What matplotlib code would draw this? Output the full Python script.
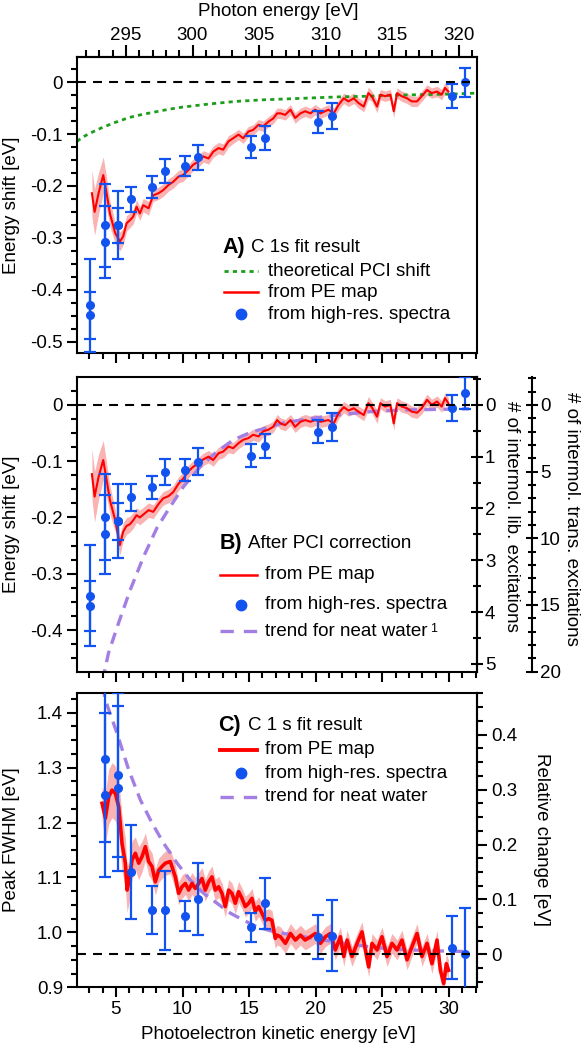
import matplotlib
matplotlib.use('Agg')
import matplotlib.pyplot as plt
import numpy as np
from matplotlib.ticker import MultipleLocator, FuncFormatter

FS = 13.5
plt.rcParams['font.family'] = ['Liberation Sans', 'DejaVu Sans']
plt.rcParams['font.size'] = FS
plt.rcParams['axes.unicode_minus'] = False

# ---------------- data ----------------
ke_map = [3.2, 3.4, 3.7, 4.05, 4.3, 4.55, 4.95, 5.3, 5.55, 5.8,
          6.05, 6.3, 6.55, 6.8, 7.05, 7.45, 7.8, 8.2, 8.55, 8.95,
          9.3, 9.7, 10.05, 10.45, 10.8, 11.2, 11.55, 11.95, 12.3, 12.7,
          13.05, 13.45, 13.8, 14.2, 14.55, 14.95, 15.3, 15.7, 16.05, 16.45,
          16.8, 17.1, 17.35, 17.7, 18.1, 18.45, 18.85, 19.2, 19.6, 19.95,
          20.35, 20.95, 21.35, 21.7, 22.1, 22.45, 22.85, 23.2, 23.6, 23.95,
          24.2, 24.6, 24.85, 25.2, 25.6, 25.85, 26.1, 26.45, 26.85, 27.2,
          27.6, 27.95, 28.35, 28.7, 29.1, 29.45, 29.7, 29.95]
shift_map_a = [-0.214, -0.250, -0.214, -0.179, -0.214, -0.253, -0.291, -0.307, -0.297, -0.272,
               -0.266, -0.259, -0.240, -0.253, -0.237, -0.243, -0.218, -0.214, -0.208, -0.198,
               -0.192, -0.182, -0.179, -0.169, -0.159, -0.153, -0.143, -0.147, -0.134, -0.127,
               -0.130, -0.114, -0.108, -0.101, -0.108, -0.095, -0.092, -0.082, -0.085, -0.076,
               -0.070, -0.060, -0.060, -0.063, -0.053, -0.069, -0.060, -0.056, -0.060, -0.053,
               -0.060, -0.053, -0.060, -0.044, -0.031, -0.037, -0.031, -0.040, -0.047, -0.021,
               -0.027, -0.047, -0.024, -0.027, -0.024, -0.056, -0.021, -0.027, -0.031, -0.037,
               -0.037, -0.027, -0.015, -0.021, -0.018, -0.024, -0.011, -0.018]
shift_map_b = [-0.123, -0.163, -0.128, -0.098, -0.133, -0.169, -0.205, -0.249, -0.225, -0.215,
               -0.212, -0.205, -0.196, -0.200, -0.195, -0.187, -0.190, -0.176, -0.166, -0.162,
               -0.155, -0.140, -0.131, -0.118, -0.110, -0.104, -0.097, -0.092, -0.098, -0.086,
               -0.083, -0.074, -0.077, -0.068, -0.062, -0.059, -0.053, -0.056, -0.047, -0.044,
               -0.039, -0.027, -0.033, -0.036, -0.027, -0.039, -0.030, -0.027, -0.030, -0.027,
               -0.030, -0.027, -0.033, -0.015, -0.004, -0.010, -0.006, -0.012, -0.018, 0.003,
               -0.004, -0.021, 0.003, -0.003, 0.000, -0.033, 0.003, -0.003, -0.006, -0.012,
               -0.014, -0.006, 0.009, 0.000, 0.006, -0.003, 0.012, 0.003]
band_map = [0.045, 0.045, 0.040, 0.035, 0.030, 0.025, 0.020, 0.018, 0.016, 0.015,
            0.014, 0.014, 0.013, 0.013, 0.013, 0.013, 0.012, 0.012, 0.012, 0.012,
            0.012, 0.012, 0.012, 0.011, 0.011, 0.011, 0.011, 0.011, 0.011, 0.011,
            0.011, 0.011, 0.010, 0.010, 0.010, 0.010, 0.010, 0.010, 0.010, 0.010,
            0.010, 0.010, 0.010, 0.010, 0.010, 0.010, 0.010, 0.010, 0.010, 0.010,
            0.010, 0.010, 0.010, 0.010, 0.010, 0.010, 0.010, 0.010, 0.010, 0.012,
            0.010, 0.012, 0.010, 0.010, 0.010, 0.012, 0.010, 0.010, 0.010, 0.010,
            0.010, 0.010, 0.010, 0.010, 0.010, 0.010, 0.010, 0.010]

ke_c = [3.96, 4.21, 4.46, 4.71, 4.96, 5.21, 5.46, 5.71, 5.84, 6.04,
        6.21, 6.46, 6.71, 6.96, 7.21, 7.46, 7.71, 7.96, 8.21, 8.46,
        8.71, 9.08, 9.46, 9.71, 9.96, 10.21, 10.46, 10.71, 10.96, 11.21,
        11.46, 11.71, 11.96, 12.21, 12.46, 12.71, 12.96, 13.21, 13.46, 13.71,
        13.96, 14.21, 14.46, 14.71, 14.96, 15.21, 15.46, 15.71, 15.96, 16.21,
        16.46, 16.71, 16.96, 17.1, 17.35, 17.72, 18.1, 18.47, 18.85, 19.2,
        19.6, 19.97, 20.35, 20.72, 21.1, 21.47, 21.85, 22.1, 22.35, 22.72,
        23.1, 23.47, 23.72, 23.97, 24.22, 24.6, 24.97, 25.35, 25.72, 26.1,
        26.47, 26.85, 27.22, 27.6, 27.97, 28.35, 28.72, 29.1, 29.35, 29.6,
        29.8, 29.97]
fwhm_c = [1.235, 1.208, 1.247, 1.259, 1.253, 1.229, 1.162, 1.126, 1.077, 1.101,
          1.132, 1.144, 1.126, 1.138, 1.156, 1.129, 1.120, 1.092, 1.113, 1.120,
          1.126, 1.129, 1.101, 1.071, 1.083, 1.089, 1.077, 1.089, 1.080, 1.089,
          1.098, 1.077, 1.092, 1.101, 1.077, 1.083, 1.071, 1.047, 1.077, 1.071,
          1.053, 1.074, 1.062, 1.047, 1.053, 1.062, 1.038, 1.047, 1.035, 1.022,
          1.025, 1.022, 0.989, 0.995, 0.992, 0.980, 0.998, 0.986, 0.995, 0.986,
          0.992, 0.998, 0.980, 0.992, 0.998, 0.968, 0.992, 0.956, 0.986, 0.956,
          0.980, 1.001, 0.968, 0.937, 0.980, 0.968, 0.992, 0.956, 0.980, 0.968,
          0.986, 0.950, 0.974, 0.998, 0.956, 0.980, 0.943, 0.986, 0.931, 0.907,
          0.943, 0.931]
band_c = [0.030, 0.045, 0.050, 0.050, 0.050, 0.050, 0.050, 0.045, 0.040, 0.040,
          0.035, 0.030, 0.030, 0.028, 0.025, 0.025, 0.025, 0.024, 0.022, 0.022,
          0.022, 0.022, 0.022, 0.021, 0.021, 0.020, 0.020, 0.020, 0.020, 0.020,
          0.020, 0.020, 0.020, 0.020, 0.020, 0.019, 0.019, 0.019, 0.019, 0.019,
          0.019, 0.019, 0.019, 0.019, 0.018, 0.018, 0.018, 0.018, 0.018, 0.018,
          0.018, 0.018, 0.018, 0.018, 0.018, 0.018, 0.018, 0.018, 0.018, 0.018,
          0.018, 0.018, 0.018, 0.018, 0.018, 0.018, 0.018, 0.018, 0.018, 0.018,
          0.018, 0.018, 0.018, 0.018, 0.018, 0.018, 0.018, 0.018, 0.018, 0.018,
          0.018, 0.018, 0.018, 0.018, 0.018, 0.018, 0.018, 0.018, 0.018, 0.018,
          0.018, 0.018]

pci_ke = [2.08, 2.5, 3.0, 3.5, 4.0, 5.0, 6.0, 7.0, 8.0, 9.0, 10.0, 12.0,
          14.0, 16.0, 18.0, 20.0, 22.0, 24.0, 26.0, 28.0, 30.0, 32.1]
pci_shift = [-0.114, -0.106, -0.099, -0.093, -0.087, -0.077, -0.068, -0.062, -0.057, -0.052,
             -0.048, -0.042, -0.037, -0.034, -0.032, -0.030, -0.028, -0.027, -0.025, -0.024,
             -0.023, -0.021]

hr_ke_ab = [3.07, 3.07, 4.15, 4.15, 5.13, 5.13, 6.17, 7.7, 8.68, 10.18, 11.18,
            15.17, 16.2, 20.2, 21.2, 30.2, 31.2]
hr_shift_a = [-0.430, -0.449, -0.2755, -0.3077, -0.2755, -0.276, -0.2259, -0.2015, -0.1712,
              -0.1616, -0.1448, -0.1255, -0.107, -0.076, -0.066, -0.0265, 0.0]
hr_err_a = [0.090, 0.045, 0.080, 0.070, 0.065, 0.033, 0.024, 0.021, 0.024, 0.020, 0.024,
            0.021, 0.023, 0.021, 0.025, 0.023, 0.028]
hr_shift_b = [-0.339, -0.357, -0.1987, -0.230, -0.2064, -0.207, -0.164, -0.1465, -0.120,
              -0.1157, -0.1008, -0.090, -0.073, -0.0475, -0.0386, -0.006, 0.021]
hr_err_b = [0.090, 0.045, 0.076, 0.070, 0.065, 0.033, 0.024, 0.020, 0.023, 0.020, 0.024,
            0.021, 0.022, 0.021, 0.025, 0.023, 0.029]

hr_ke_c = [4.15, 4.15, 5.14, 5.14, 6.17, 7.7, 8.68, 10.18, 11.18, 15.17, 16.2,
           20.2, 21.2, 30.2, 31.2]
hr_fwhm_c = [1.315, 1.250, 1.2865, 1.262, 1.110, 1.0406, 1.0406, 1.0297, 1.061, 1.009,
             1.053, 0.992, 0.994, 0.972, 0.960]
hr_err_c = [0.150, 0.150, 0.150, 0.150, 0.085, 0.043, 0.072, 0.028, 0.065, 0.027,
            0.046, 0.040, 0.065, 0.057, 0.085]

trend_b_ke = [4.0, 4.44, 5.19, 6.07, 7.07, 8.07, 9.07, 10.08, 11.33, 12.58, 13.83,
              15.1, 16.4, 17.6, 18.85, 20.0, 21.6, 24.1, 26.6, 29.1, 31.5]
trend_b = [-0.49, -0.441, -0.388, -0.329, -0.270, -0.219, -0.181, -0.145, -0.110, -0.083,
           -0.062, -0.049, -0.040, -0.032, -0.027, -0.023, -0.018, -0.012, -0.009, -0.008, -0.007]
trend_c_ke = [4.0, 4.21, 5.09, 5.96, 6.84, 7.71, 8.59, 9.59, 10.59, 11.59, 12.59,
              13.59, 14.59, 15.59, 16.59, 17.6, 19.6, 22.1, 24.6, 27.1, 29.6, 31.5]
trend_c = [1.45, 1.423, 1.362, 1.296, 1.241, 1.199, 1.162, 1.126, 1.095, 1.071, 1.053,
           1.035, 1.022, 1.010, 1.003, 0.998, 0.990, 0.980, 0.972, 0.968, 0.966, 0.965]

fwhm_ref = 0.96
ev_per_lib = 0.092
ev_per_trans = 0.0237
photon_offset = 289.25

# ---------------- style ----------------
RED = '#ff0000'
PINK = '#f9b3b3'
BLUE = '#1253f0'
GREEN = '#1c9e1c'
PURPLE = '#a47fe3'
BLK_DASH = (4.3, 3.4)

fig = plt.figure(figsize=(5.82, 10.45), dpi=100)
L, W = 77 / 582, 400 / 582


def pos(top, bottom):
    return [L, 1 - bottom / 1045, W, (bottom - top) / 1045]


axA = fig.add_axes(pos(57.3, 353.3))
axB = fig.add_axes(pos(377.3, 671.7))
axC = fig.add_axes(pos(692.7, 987.3))

XLIM = (2.08, 32.1)


def fmt1(v, _):
    if abs(v) < 1e-9:
        return '0'
    return f'{v:.1f}'


def fmt_int(v, _):
    return f'{int(round(v))}'


def base_style(ax):
    for s in ax.spines.values():
        s.set_linewidth(1.5)
    ax.set_xlim(*XLIM)
    ax.xaxis.set_major_locator(MultipleLocator(5))
    ax.xaxis.set_minor_locator(MultipleLocator(1))
    ax.yaxis.set_major_locator(MultipleLocator(0.1))
    ax.yaxis.set_minor_locator(MultipleLocator(0.025))
    ax.yaxis.set_major_formatter(FuncFormatter(fmt1))
    ax.xaxis.set_major_formatter(FuncFormatter(fmt_int))
    ax.tick_params(which='major', direction='out', length=7, width=1.5, labelsize=FS, pad=3)
    ax.tick_params(which='minor', direction='out', length=4.5, width=1.5)
    ax.tick_params(which='both', top=False, right=False)


for ax in (axA, axB, axC):
    base_style(ax)
axA.tick_params(labelbottom=False)
axB.tick_params(labelbottom=False)

axA.set_ylim(-0.5225, 0.048)
axB.set_ylim(-0.474, 0.049)
axC.set_ylim(0.9, 1.4364)


def hdash(ax, y):
    ax.plot([XLIM[0], 31.6], [y, y], color='black', lw=1.5, dashes=BLK_DASH, zorder=6)


YLAB_X = -0.142

# ---------------- panel A ----------------
ka = np.array(ke_map)
sa = np.array(shift_map_a)
bm = np.array(band_map)
axA.fill_between(ka, sa - bm, sa + bm, color=PINK, lw=0, zorder=1)
axA.plot(pci_ke, pci_shift, color=GREEN, lw=2, dashes=(1.5, 1.5), zorder=2)
axA.plot(ka, sa, color=RED, lw=1.5, zorder=3)
axA.errorbar(hr_ke_ab, hr_shift_a, yerr=hr_err_a, fmt='o', color=BLUE, ms=5.5,
             elinewidth=1.6, capsize=4, capthick=1.6, zorder=5)
hdash(axA, 0)
axA.set_ylabel('Energy shift [eV]')
axA.yaxis.set_label_coords(YLAB_X, 0.5)

secA = axA.secondary_xaxis('top', functions=(lambda k: k + photon_offset,
                                              lambda e: e - photon_offset))
secA.set_xticks([295, 300, 305, 310, 315, 320])
secA.xaxis.set_major_formatter(FuncFormatter(fmt_int))
secA.xaxis.set_minor_locator(MultipleLocator(1))
secA.tick_params(which='major', direction='out', length=8.5, width=1.5, labelsize=FS, pad=1)
secA.tick_params(which='minor', direction='out', length=5, width=1.5)
secA.spines['top'].set_linewidth(1.5)
fig.text(278 / 582, 1 - 11 / 1045, 'Photon energy [eV]', ha='center', va='center', fontsize=FS)

tA = axA.transAxes
axA.text(0.3625, 0.356, 'A)', transform=tA, fontsize=15.5, fontweight='bold', va='center')
axA.text(0.435, 0.356, 'C 1s fit result', transform=tA, va='center')
axA.plot([0.3675, 0.4525], [0.278, 0.278], transform=tA, color=GREEN, lw=2, dashes=(1.5, 1.5))
axA.text(0.4775, 0.278, 'theoretical PCI shift', transform=tA, va='center')
axA.plot([0.3675, 0.4525], [0.207, 0.207], transform=tA, color=RED, lw=1.8)
axA.text(0.4775, 0.207, 'from PE map', transform=tA, va='center')
axA.plot([0.41], [0.132], 'o', transform=tA, color=BLUE, ms=7.5)
axA.text(0.4775, 0.132, 'from high-res. spectra', transform=tA, va='center')

# ---------------- panel B ----------------
sb = np.array(shift_map_b)
axB.fill_between(ka, sb - bm, sb + bm, color=PINK, lw=0, zorder=1)
axB.plot(trend_b_ke, trend_b, color=PURPLE, lw=2.4, dashes=(3.5, 2.2), zorder=2)
axB.plot(ka, sb, color=RED, lw=1.5, zorder=3)
axB.errorbar(hr_ke_ab, hr_shift_b, yerr=hr_err_b, fmt='o', color=BLUE, ms=5.5,
             elinewidth=1.6, capsize=4, capthick=1.6, zorder=5)
hdash(axB, 0)
axB.set_ylabel('Energy shift [eV]')
axB.yaxis.set_label_coords(YLAB_X, 0.5)

b0, b1 = axB.get_ylim()
axL = axB.twinx()
axL.set_ylim(-b0 / ev_per_lib, -b1 / ev_per_lib)
axT = axB.twinx()
axT.set_ylim(-b0 / ev_per_trans, -b1 / ev_per_trans)
axT.spines['right'].set_position(('axes', 1.1375))
for a in (axL, axT):
    for k in ('top', 'bottom', 'left'):
        a.spines[k].set_visible(False)
    a.spines['right'].set_linewidth(1.5)
axL.yaxis.set_major_locator(MultipleLocator(1))
axL.yaxis.set_minor_locator(MultipleLocator(0.5))
axT.yaxis.set_major_locator(MultipleLocator(5))
axT.yaxis.set_minor_locator(MultipleLocator(1))
for a in (axL, axT):
    a.yaxis.set_major_formatter(FuncFormatter(fmt_int))
    a.tick_params(which='major', direction='inout', length=8.5, width=1.5, labelsize=FS, pad=1.5)
    a.tick_params(which='minor', direction='inout', length=5.5, width=1.5)
axL.set_ylabel('# of intermol. lib. excitations', rotation=270, va='bottom')
axL.yaxis.set_label_coords(1.064, 0.527)
axT.set_ylabel('# of intermol. trans. excitations', rotation=270, va='bottom')
axT.yaxis.set_label_coords(1.216, 0.52)

tB = axB.transAxes
axB.text(0.3575, 0.437, 'B)', transform=tB, fontsize=15.5, fontweight='bold', va='center')
axB.text(0.4275, 0.437, 'After PCI correction', transform=tB, va='center')
axB.plot([0.3575, 0.449], [0.329, 0.329], transform=tB, color=RED, lw=1.8)
axB.text(0.47, 0.329, 'from PE map', transform=tB, va='center')
axB.plot([0.409], [0.227], 'o', transform=tB, color=BLUE, ms=7.5)
axB.text(0.47, 0.227, 'from high-res. spectra', transform=tB, va='center')
axB.plot([0.3575, 0.449], [0.137, 0.137], transform=tB, color=PURPLE, lw=2.4, dashes=(4, 3))
tw = axB.text(0.47, 0.137, 'trend for neat water', transform=tB, va='center')
axB.annotate('1', xy=(1, 1), xycoords=tw, xytext=(1.5, 0), textcoords='offset points',
             fontsize=9, va='top')

# ---------------- panel C ----------------
kc = np.array(ke_c)
fc = np.array(fwhm_c)
bc = np.array(band_c)
axC.fill_between(kc, fc - bc, fc + bc, color=PINK, lw=0, zorder=1)
axC.plot(trend_c_ke, trend_c, color=PURPLE, lw=2.4, dashes=(3.5, 2.2), zorder=2)
axC.plot(kc, fc, color=RED, lw=2.6, zorder=3)
axC.errorbar(hr_ke_c, hr_fwhm_c, yerr=hr_err_c, fmt='o', color=BLUE, ms=5.5,
             elinewidth=1.6, capsize=4, capthick=1.6, zorder=5)
hdash(axC, fwhm_ref)
axC.set_ylabel('Peak FWHM [eV]')
axC.yaxis.set_label_coords(YLAB_X, 0.5)
axC.set_xlabel('Photoelectron kinetic energy [eV]')
axC.xaxis.set_label_coords(0.5025, -0.132)

axR = axC.twinx()
axR.set_ylim(0.9 - fwhm_ref, 1.4364 - fwhm_ref)
for k in ('top', 'bottom', 'left'):
    axR.spines[k].set_visible(False)
axR.spines['right'].set_linewidth(1.5)
axR.yaxis.set_major_locator(MultipleLocator(0.1))
axR.yaxis.set_minor_locator(MultipleLocator(0.025))
axR.yaxis.set_major_formatter(FuncFormatter(fmt1))
axR.tick_params(which='major', direction='out', length=7, width=1.5, labelsize=FS, pad=3)
axR.tick_params(which='minor', direction='out', length=4.5, width=1.5)
axR.set_ylabel('Relative change [eV]', rotation=270, va='bottom')
axR.yaxis.set_label_coords(1.14, 0.503)

tC = axC.transAxes
axC.text(0.3525, 0.888, 'C)', transform=tC, fontsize=15.5, fontweight='bold', va='center')
axC.text(0.4275, 0.888, 'C 1 s fit result', transform=tC, va='center')
axC.plot([0.3575, 0.449], [0.806, 0.806], transform=tC, color=RED, lw=2.8)
axC.text(0.47, 0.806, 'from PE map', transform=tC, va='center')
axC.plot([0.409], [0.727], 'o', transform=tC, color=BLUE, ms=7.5)
axC.text(0.47, 0.727, 'from high-res. spectra', transform=tC, va='center')
axC.plot([0.3575, 0.449], [0.647, 0.647], transform=tC, color=PURPLE, lw=2.4, dashes=(4, 3))
axC.text(0.47, 0.647, 'trend for neat water', transform=tC, va='center')

fig.savefig('out.png', dpi=100)
